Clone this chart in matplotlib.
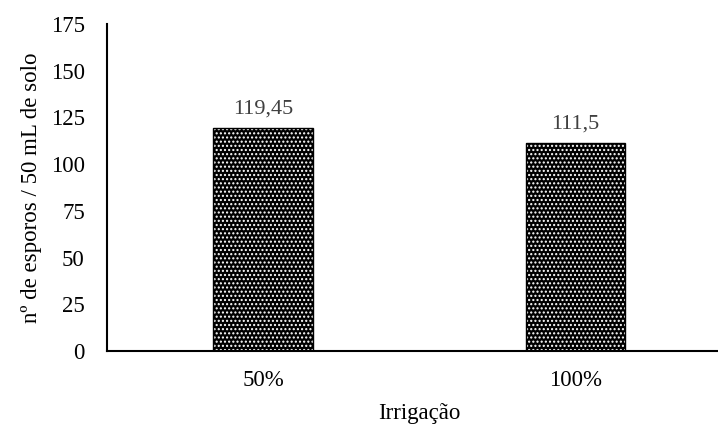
import matplotlib.pyplot as plt

categorias = ['50%', '100%']
esporos = [119.45, 111.5]
rotulos = ['119,45', '111,5']
yticks = [0, 25, 50, 75, 100, 125, 150, 175]

plt.rcParams['font.family'] = ['Liberation Serif', 'DejaVu Serif']
plt.rcParams['hatch.linewidth'] = 1.0

fig = plt.figure(figsize=(7.18, 4.26), dpi=100)
ax = fig.add_axes([0.149, 0.176, 0.87, 0.768])

x = range(len(categorias))
# preenchimento pontilhado branco sobre preto
ax.bar(x, esporos, width=0.32, color='black', edgecolor='white',
       hatch='....', linewidth=0)
ax.bar(x, esporos, width=0.32, fill=False, edgecolor='black', linewidth=1)

for xi, v, r in zip(x, esporos, rotulos):
    ax.text(xi, v + 5, r, ha='center', va='bottom', fontsize=16, color='#404040')

ax.set_xlim(-0.5, 1.5)
ax.set_ylim(0, 175)
ax.set_yticks(yticks)
ax.set_xticks(list(x))
ax.set_xticklabels(categorias)
ax.tick_params(length=0, labelsize=16.5, colors='black')
ax.tick_params(axis='x', pad=14)
ax.tick_params(axis='y', pad=16)

for s in ['top', 'right']:
    ax.spines[s].set_visible(False)
for s in ['left', 'bottom']:
    ax.spines[s].set_linewidth(1.5)

ax.set_ylabel('nº de esporos / 50 mL de solo', fontsize=16.5, labelpad=6)
ax.set_xlabel('Irrigação', fontsize=16.5, labelpad=8.5)

fig.savefig('out.png', dpi=100)
